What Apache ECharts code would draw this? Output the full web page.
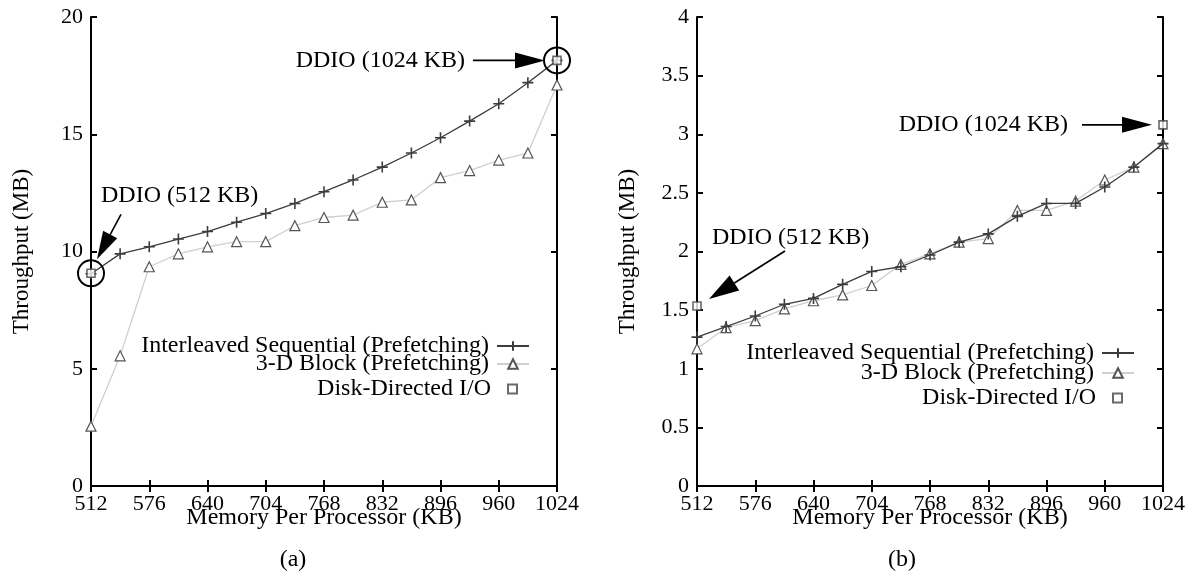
<!DOCTYPE html>
<html>
<head>
<meta charset="utf-8">
<script src="https://cdn.jsdelivr.net/npm/echarts@6/dist/echarts.min.js"></script>
<style>
  html, body { margin: 0; padding: 0; background: #fff; }
  #chart { width: 1189px; height: 576px; }
</style>
</head>
<body>
<div id="chart"></div>
<script>
// memory per processor (KB), one point every 32 KB
const memory = [512, 544, 576, 608, 640, 672, 704, 736, 768, 800, 832, 864, 896, 928, 960, 992, 1024];

// (a) throughput (MB)
const seqA = [9.05, 9.9, 10.2, 10.53, 10.85, 11.25, 11.62, 12.05, 12.55, 13.05, 13.6, 14.2, 14.85, 15.56, 16.3, 17.2, 18.15];
const blockA = [2.55, 5.55, 9.35, 9.9, 10.2, 10.42, 10.42, 11.1, 11.45, 11.55, 12.1, 12.2, 13.15, 13.45, 13.9, 14.2, 17.1];
const ddioA = [[512, 9.07], [1024, 18.15]];

// (b) throughput (MB)
const seqB = [1.27, 1.36, 1.45, 1.55, 1.6, 1.72, 1.83, 1.87, 1.97, 2.08, 2.15, 2.3, 2.41, 2.41, 2.55, 2.72, 2.92];
const blockB = [1.17, 1.35, 1.41, 1.51, 1.58, 1.63, 1.71, 1.89, 1.98, 2.08, 2.11, 2.35, 2.35, 2.43, 2.61, 2.72, 2.92];
const ddioB = [[512, 1.535], [1024, 3.08]];

const names = ['Interleaved Sequential (Prefetching)', '3-D Block (Prefetching)', 'Disk-Directed I/O'];
const font = 'Liberation Serif';

function pairs(ys) {
	return memory.map(function(x, i) { return [x, ys[i]]; });
}

function xAxes(grid) {
	const base = {
		type: 'value', gridIndex: grid, min: 512, max: 1024, interval: 64,
		splitLine: { show: false },
		axisLine: { show: true, lineStyle: { color: '#000', width: 2 } },
		axisTick: { show: true, inside: true, length: 6, lineStyle: { color: '#000', width: 2 } }
	};
	return [
		Object.assign({}, base, {
			position: 'bottom',
			name: 'Memory Per Processor (KB)', nameLocation: 'middle', nameGap: 20,
			nameMoveOverlap: false,
			nameTextStyle: { fontFamily: font, fontSize: 24, color: '#000' },
			axisLabel: { fontFamily: font, fontSize: 22, color: '#000', margin: 7,
				formatter: function(v) { return String(v); } }
		}),
		Object.assign({}, base, { position: 'top', axisLabel: { show: false } })
	];
}

function yAxes(grid, max, step) {
	const base = {
		type: 'value', gridIndex: grid, min: 0, max: max, interval: step,
		splitLine: { show: false },
		axisLine: { show: true, lineStyle: { color: '#000', width: 2 } },
		axisTick: { show: true, inside: true, length: 6, lineStyle: { color: '#000', width: 2 } }
	};
	return [
		Object.assign({}, base, {
			position: 'left',
			name: 'Throughput (MB)', nameLocation: 'middle', nameGap: 58,
			nameMoveOverlap: false,
			nameTextStyle: { fontFamily: font, fontSize: 23, color: '#000' },
			axisLabel: { fontFamily: font, fontSize: 22, color: '#000', margin: 8 }
		}),
		Object.assign({}, base, { position: 'right', axisLabel: { show: false } })
	];
}

function seriesFor(xi, yi, seq, block, ddio) {
	return [{
		name: names[0], type: 'line', xAxisIndex: xi, yAxisIndex: yi,
		data: pairs(seq),
		symbol: 'path://M0,5L10,5M5,0L5,10', symbolSize: 11,
		lineStyle: { color: '#3c3c3c', width: 1.3 },
		itemStyle: { color: '#3c3c3c', borderColor: '#3c3c3c', borderWidth: 1.6 },
		z: 3
	}, {
		name: names[1], type: 'line', xAxisIndex: xi, yAxisIndex: yi,
		data: pairs(block),
		symbol: 'triangle', symbolSize: 10,
		lineStyle: { color: '#cfcfcf', width: 1.3 },
		itemStyle: { color: '#fff', borderColor: '#555', borderWidth: 1.2 },
		z: 2
	}, {
		name: names[2], type: 'scatter', xAxisIndex: xi, yAxisIndex: yi,
		data: ddio,
		symbol: 'rect', symbolSize: 8,
		itemStyle: { color: '#fff', borderColor: '#444', borderWidth: 1.6 },
		z: 4
	}];
}

// one legend per row so every row is right-aligned like the original
function legendsFor(right, tops) {
	return names.map(function(n, i) {
		const square = i === 2;
		return {
			data: [n], orient: 'vertical', align: 'right',
			right: square ? right + 12 : right, top: tops[i],
			padding: 0, itemWidth: square ? 9 : 32, itemHeight: square ? 9 : 12, itemGap: 0,
			selectedMode: false,
			textStyle: { fontFamily: font, fontSize: 24, color: '#000', padding: [0, square ? 12 : 3, 0, 0] }
		};
	});
}

const chart = echarts.init(document.getElementById('chart'));
chart.setOption({
	animation: false,
	backgroundColor: '#fff',
	grid: [
		{ left: 91, top: 17, width: 466, height: 469 },
		{ left: 697, top: 17, width: 466, height: 469 }
	],
	xAxis: xAxes(0).concat(xAxes(1)),
	yAxis: yAxes(0, 20, 5).concat(yAxes(1, 4, 0.5)),
	legend: legendsFor(659, [334, 352, 377]).concat(legendsFor(54, [341, 361, 386])),
	series: seriesFor(0, 0, seqA, blockA, ddioA).concat(seriesFor(2, 2, seqB, blockB, ddioB))
});

// annotations: circles, arrows and labels around the DDIO points
function arrow(x1, y1, x2, y2, len, w) {
	const dx = x2 - x1, dy = y2 - y1, d = Math.hypot(dx, dy);
	const ux = dx / d, uy = dy / d;
	const bx = x2 - ux * len, by = y2 - uy * len;
	return [{
		type: 'line', shape: { x1: x1, y1: y1, x2: bx, y2: by },
		style: { stroke: '#000', lineWidth: 1.6 }
	}, {
		type: 'polygon',
		shape: { points: [[x2, y2], [bx - uy * w / 2, by + ux * w / 2], [bx + uy * w / 2, by - ux * w / 2]] },
		style: { fill: '#000' }
	}];
}
function label(text, x, y, align) {
	return {
		type: 'text', x: x, y: y,
		style: { text: text, fontFamily: font, fontSize: 24, fill: '#000', align: align, verticalAlign: 'middle' }
	};
}
function ring(p) {
	return { type: 'circle', shape: { cx: p[0], cy: p[1], r: 13 }, style: { fill: 'none', stroke: '#000', lineWidth: 2 }, z: 10 };
}

const a0 = chart.convertToPixel({ xAxisIndex: 0, yAxisIndex: 0 }, ddioA[0]);
const a1 = chart.convertToPixel({ xAxisIndex: 0, yAxisIndex: 0 }, ddioA[1]);
const b0 = chart.convertToPixel({ xAxisIndex: 2, yAxisIndex: 2 }, ddioB[0]);
const b1 = chart.convertToPixel({ xAxisIndex: 2, yAxisIndex: 2 }, ddioB[1]);

let g = [];
g.push(ring(a0), ring(a1));
g.push(label('DDIO (512 KB)', a0[0] + 10, a0[1] - 78, 'left'));
g = g.concat(arrow(a0[0] + 30, a0[1] - 59, a0[0] + 6, a0[1] - 14, 28, 16));
g.push(label('DDIO (1024 KB)', a1[0] - 92, a1[1], 'right'));
g = g.concat(arrow(a1[0] - 84, a1[1], a1[0] - 12, a1[1], 30, 16));
g.push(label('DDIO (512 KB)', b0[0] + 15, b0[1] - 68, 'left'));
g = g.concat(arrow(b0[0] + 88, b0[1] - 55, b0[0] + 12, b0[1] - 7, 30, 18));
g.push(label('DDIO (1024 KB)', b1[0] - 95, b1[1], 'right'));
g = g.concat(arrow(b1[0] - 81, b1[1], b1[0] - 11, b1[1], 30, 16));
g.push(label('(a)', 293, 560, 'center'));
g.push(label('(b)', 902, 560, 'center'));

chart.setOption({ graphic: g });
</script>
</body>
</html>
